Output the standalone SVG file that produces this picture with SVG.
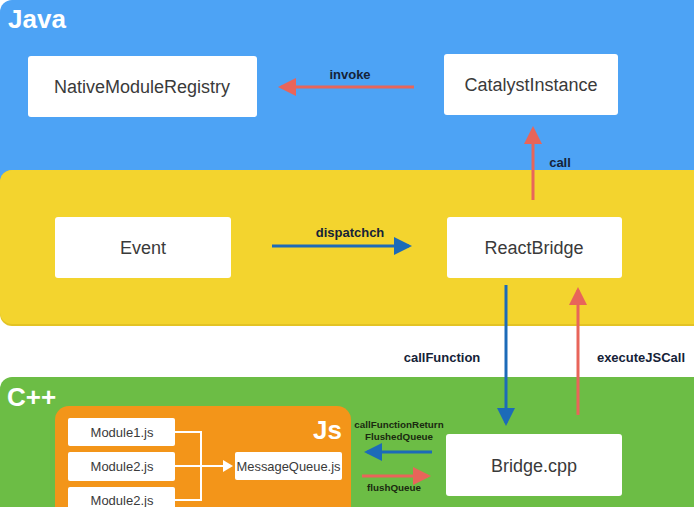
<svg xmlns="http://www.w3.org/2000/svg" width="694" height="507" viewBox="0 0 694 507">
<style>
.node rect{fill:#fff;}
.nt{font-family:"Liberation Sans",Arial,sans-serif;font-size:18px;fill:#3a3a3a;text-anchor:middle;dominant-baseline:central;}
.st{font-family:"Liberation Sans",Arial,sans-serif;font-size:13px;fill:#3a3a3a;text-anchor:middle;dominant-baseline:central;}
.lbl{font-family:"Liberation Sans",Arial,sans-serif;font-size:13px;font-weight:bold;fill:#152238;text-anchor:middle;}
.sl{font-family:"Liberation Sans",Arial,sans-serif;font-size:9.8px;font-weight:bold;fill:#1a2a10;text-anchor:middle;}
.title{font-family:"Liberation Sans",Arial,sans-serif;font-size:26px;font-weight:bold;fill:#fff;}
.red{stroke:#E8655A;stroke-width:3;fill:none;}
.blue{stroke:#1C6BB8;stroke-width:3;fill:none;}
.wh{stroke:#fff;stroke-width:2;fill:none;}
</style>
<defs>
<marker id="ar" markerWidth="6" markerHeight="6" refX="5" refY="3" orient="auto" markerUnits="strokeWidth"><path d="M0,0 L6,3 L0,6 Z" fill="#E8655A"/></marker>
<marker id="ab" markerWidth="6" markerHeight="6" refX="5" refY="3" orient="auto" markerUnits="strokeWidth"><path d="M0,0 L6,3 L0,6 Z" fill="#1C6BB8"/></marker>
<marker id="aw" markerWidth="5" markerHeight="6" refX="4" refY="3" orient="auto" markerUnits="strokeWidth"><path d="M0,0 L5,3 L0,6 Z" fill="#fff"/></marker>
</defs>
<rect width="694" height="507" fill="#fff"/>
<g id="java-panel">
<rect x="0" y="0" width="710" height="200" rx="12" fill="#4DA3F5"/>
<text class="title" x="8" y="28">Java</text>
</g>
<g id="yellow-panel">
<rect x="0" y="170" width="710" height="156" rx="12" fill="#E3C324"/>
<rect x="0" y="170" width="710" height="154" rx="12" fill="#F3D42E"/>
</g>
<g id="cpp-panel">
<rect x="0" y="377" width="710" height="150" rx="12" fill="#6CBD45"/>
<text class="title" x="7" y="406">C++</text>
</g>
<g id="js-panel">
<rect x="55" y="406" width="296" height="130" rx="14" fill="#F39519"/>
<text class="title" x="342" y="439" text-anchor="end">Js</text>
</g>
<g id="NativeModuleRegistry" class="node"><rect x="28" y="56" width="229" height="61" rx="3"/><text class="nt" x="142" y="87">NativeModuleRegistry</text></g>
<g id="CatalystInstance" class="node"><rect x="444" y="54" width="174" height="61" rx="3"/><text class="nt" x="531" y="85">CatalystInstance</text></g>
<g id="Event" class="node"><rect x="55" y="217" width="176" height="61" rx="3"/><text class="nt" x="143" y="248">Event</text></g>
<g id="ReactBridge" class="node"><rect x="447" y="217" width="175" height="61" rx="3"/><text class="nt" x="534" y="248">ReactBridge</text></g>
<g id="BridgeCpp" class="node"><rect x="446" y="434" width="176" height="62" rx="3"/><text class="nt" x="534" y="466">Bridge.cpp</text></g>
<g id="Module1" class="node"><rect x="68" y="418" width="107" height="28" rx="2"/><text class="st" x="122" y="432">Module1.js</text></g>
<g id="Module2a" class="node"><rect x="68" y="452" width="107" height="29" rx="2"/><text class="st" x="122" y="466">Module2.js</text></g>
<g id="Module2b" class="node"><rect x="68" y="487" width="107" height="29" rx="2"/><text class="st" x="122" y="500">Module2.js</text></g>
<g id="MessageQueue" class="node"><rect x="235" y="452" width="107" height="28" rx="2"/><text class="st" x="288.5" y="466" textLength="104" lengthAdjust="spacingAndGlyphs">MessageQueue.js</text></g>
<g id="connectors">
<line class="red" x1="414" y1="87" x2="281" y2="87" marker-end="url(#ar)"/>
<text class="lbl" x="350" y="79">invoke</text>
<line class="red" x1="533" y1="200" x2="533" y2="129" marker-end="url(#ar)"/>
<text class="lbl" x="560" y="167">call</text>
<line class="blue" x1="272" y1="246" x2="409" y2="246" marker-end="url(#ab)"/>
<text class="lbl" x="350" y="237">dispatchch</text>
<line class="blue" x1="506" y1="285" x2="506" y2="423" marker-end="url(#ab)"/>
<text class="lbl" x="442" y="362">callFunction</text>
<line class="red" x1="578" y1="415" x2="578" y2="290" marker-end="url(#ar)"/>
<text class="lbl" x="641" y="362">executeJSCall</text>
<line class="blue" x1="432" y1="452" x2="367" y2="452" marker-end="url(#ab)"/>
<text class="sl" x="399" y="428">callFunctionReturn</text>
<text class="sl" x="399" y="440">FlushedQueue</text>
<line class="red" x1="362" y1="476" x2="428" y2="476" marker-end="url(#ar)"/>
<text class="sl" x="394" y="491">flushQueue</text>
<path class="wh" d="M175,432 H201 V500 H175 M175,466 H201" />
<line class="wh" x1="201" y1="466" x2="231" y2="466" marker-end="url(#aw)"/>
</g>
</svg>
